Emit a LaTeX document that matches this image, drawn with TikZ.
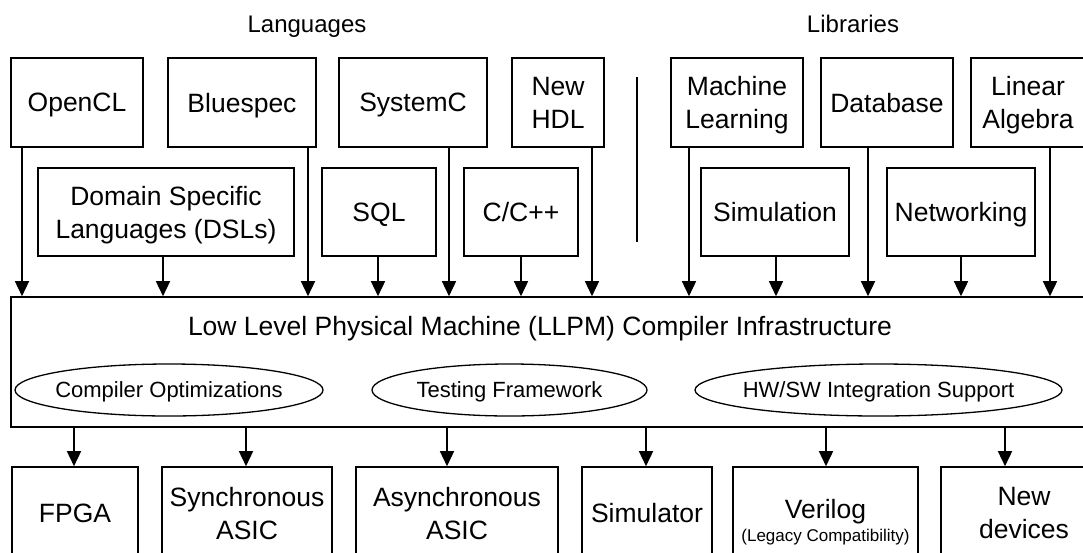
\documentclass[tikz,border=0pt]{standalone}
\usepackage{fontspec}
\setmainfont{Liberation Sans}
\usetikzlibrary{arrows.meta,shapes.geometric}
\begin{document}
\begin{tikzpicture}[x=1pt,y=-1pt,
  box/.style={draw,line width=1.6pt,minimum width=#1,inner sep=0pt,align=center,
    text depth=0pt,font=\fontsize{26.5}{33}\selectfont},
  toprow/.style={box=#1,minimum height=89},
  midrow/.style={box=#1,minimum height=88},
  botrow/.style={box=#1,minimum height=92},
  ell/.style={draw,ellipse,line width=1.3pt,inner sep=0pt,minimum height=52,
    minimum width=#1},
  elltext/.style={font=\fontsize{22}{26}\selectfont,inner sep=0pt,text depth=0pt},
  arr/.style={line width=1.5pt,-{Triangle[length=15pt,width=14pt]}},
  header/.style={font=\fontsize{24}{28}\selectfont,anchor=base,inner sep=0pt}]
\useasboundingbox (0,0) rectangle (1083,552);
\clip (0,0) rectangle (1083,552);

% headers
\node[header] (hlang) at (307,32) {Languages};
\node[header] (hlib) at (853,32) {Libraries};

% top row
\node[toprow=132] (opencl) at (77,102.5) {OpenCL};
\node[toprow=148] (bluespec) at (242,102.5) {Bluespec};
\node[toprow=148] (systemc) at (413,102.5) {SystemC};
\node[toprow=92] (newhdl) at (558,102.5) {New\\HDL};
\node[toprow=132] (ml) at (737,102.5) {Machine\\Learning};
\node[toprow=132] (db) at (887,102.5) {Database};
\node[toprow=114] (linalg) at (1028,102.5) {Linear\\Algebra};

% second row
\node[midrow=256] (dsl) at (166,212) {Domain Specific\\Languages (DSLs)};
\node[midrow=114] (sql) at (379,212) {SQL};
\node[midrow=114] (cpp) at (521,212) {C/C++};
\node[midrow=148] (sim) at (775,212) {Simulation};
\node[midrow=148] (net) at (961,212) {Networking};

% divider
\draw[line width=1.5pt] (637,77) -- (637,242);

% LLPM
\node[draw,line width=1.6pt,minimum width=1079,minimum height=130,inner sep=0pt] (llpm) at (550.5,362) {};
\node[font=\fontsize{26.5}{33}\selectfont,anchor=base,inner sep=0pt] (llpmtext) at (540,335)
  {Low Level Physical Machine (LLPM) Compiler Infrastructure};
\node[ell=308,label={[elltext]center:Compiler Optimizations}] (copt) at (169,390) {};
\node[ell=275,label={[elltext]center:Testing Framework}] (test) at (509.5,390) {};
\node[ell=367,label={[elltext]center:HW/SW Integration Support}] (hwsw) at (878.5,390) {};

% bottom row
\node[botrow=126] (fpga) at (75,513) {FPGA};
\node[botrow=170] (sasic) at (247,513) {Synchronous\\ASIC};
\node[botrow=202] (aasic) at (457,513) {Asynchronous\\ASIC};
\node[botrow=130] (simr) at (647,513) {Simulator};
\node[botrow=185,
  label={[font=\fontsize{26.5}{33}\selectfont,inner sep=0pt,anchor=base,yshift=1pt]center:Verilog},
  label={[font=\fontsize{17}{20}\selectfont,inner sep=0pt,anchor=base,yshift=-24pt]center:(Legacy Compatibility)}]
  (verilog) at (825.5,513) {};
\node[botrow=166] (newdev) at (1024,513) {New\\devices};

% input arrows
\draw[arr] (22,0 |- opencl.south) -- (22,0 |- llpm.north);
\draw[arr] (163,0 |- dsl.south) -- (163,0 |- llpm.north);
\draw[arr] (308,0 |- bluespec.south) -- (308,0 |- llpm.north);
\draw[arr] (378,0 |- sql.south) -- (378,0 |- llpm.north);
\draw[arr] (449,0 |- systemc.south) -- (449,0 |- llpm.north);
\draw[arr] (521,0 |- cpp.south) -- (521,0 |- llpm.north);
\draw[arr] (592,0 |- newhdl.south) -- (592,0 |- llpm.north);
\draw[arr] (689,0 |- ml.south) -- (689,0 |- llpm.north);
\draw[arr] (776,0 |- sim.south) -- (776,0 |- llpm.north);
\draw[arr] (868,0 |- db.south) -- (868,0 |- llpm.north);
\draw[arr] (961,0 |- net.south) -- (961,0 |- llpm.north);
\draw[arr] (1050,0 |- linalg.south) -- (1050,0 |- llpm.north);

% output arrows
\draw[arr] (74,0 |- llpm.south) -- (74,0 |- fpga.north);
\draw[arr] (246,0 |- llpm.south) -- (246,0 |- sasic.north);
\draw[arr] (447,0 |- llpm.south) -- (447,0 |- aasic.north);
\draw[arr] (646,0 |- llpm.south) -- (646,0 |- simr.north);
\draw[arr] (826,0 |- llpm.south) -- (826,0 |- verilog.north);
\draw[arr] (1005,0 |- llpm.south) -- (1005,0 |- newdev.north);
\end{tikzpicture}
\end{document}
